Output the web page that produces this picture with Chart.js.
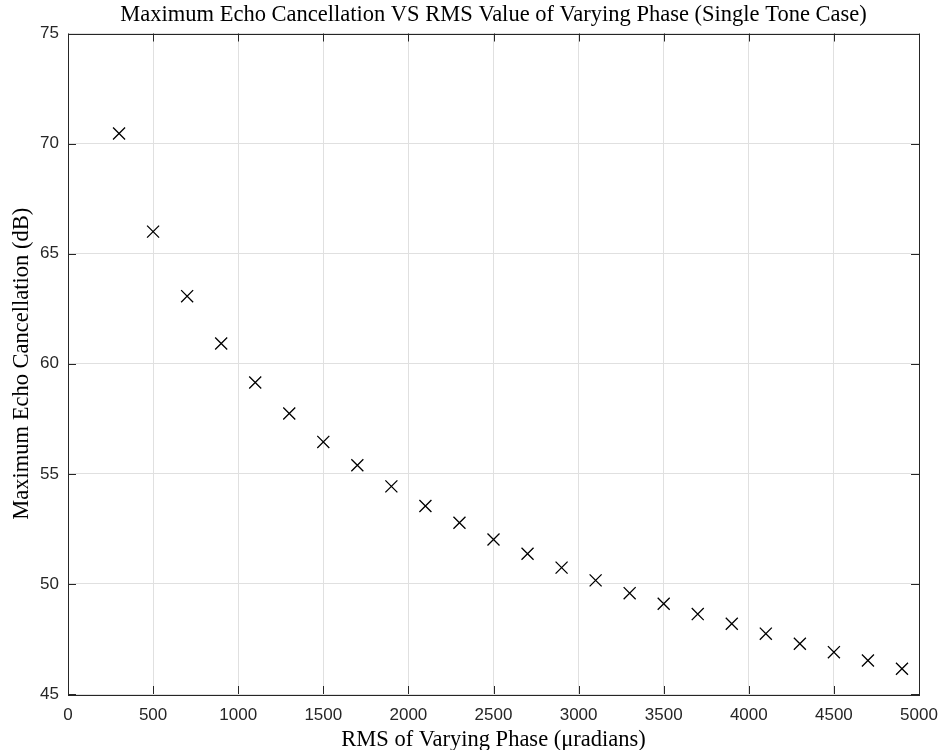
<!DOCTYPE html>
<html>
<head>
<meta charset="utf-8">
<script src="https://cdn.jsdelivr.net/npm/chart.js@4.4.1/dist/chart.umd.min.js"></script>
<style>
  html, body { margin: 0; padding: 0; background: #fff; }
  #wrap { width: 943px; height: 750px; }
</style>
</head>
<body>
<div id="wrap"><canvas id="chart"></canvas></div>
<script>
const phaseRms = [300, 500, 700, 900, 1100, 1300, 1500, 1700, 1900, 2100, 2300, 2500,
  2700, 2900, 3100, 3300, 3500, 3700, 3900, 4100, 4300, 4500, 4700, 4900];
const cancellation = [70.46, 66.0, 63.07, 60.92, 59.15, 57.74, 56.45, 55.39, 54.43, 53.54, 52.78, 52.02,
  51.37, 50.74, 50.16, 49.58, 49.1, 48.63, 48.19, 47.74, 47.28, 46.9, 46.52, 46.15];
const xTicks = [0, 500, 1000, 1500, 2000, 2500, 3000, 3500, 4000, 4500, 5000];
const yTicks = [45, 50, 55, 60, 65, 70, 75];

const serif = "'Liberation Serif', 'DejaVu Serif', serif";
const sans = "'Liberation Sans', Arial, sans-serif";

// frame + inward tick marks, MATLAB style
const boxTicks = {
  id: "boxTicks",
  afterDraw(chart) {
    const ctx = chart.ctx;
    const { left, right, top, bottom } = chart.chartArea;
    const xs = chart.scales.x, ys = chart.scales.y;
    const len = 8;
    ctx.save();
    ctx.strokeStyle = "#262626";
    ctx.lineWidth = 1;
    ctx.beginPath();
    xTicks.forEach((v) => {
      const px = Math.round(xs.getPixelForValue(v)) + 0.5;
      ctx.moveTo(px, bottom); ctx.lineTo(px, bottom - len);
      ctx.moveTo(px, top); ctx.lineTo(px, top + len);
    });
    yTicks.forEach((v) => {
      const py = Math.round(ys.getPixelForValue(v)) + 0.5;
      ctx.moveTo(left, py); ctx.lineTo(left + len, py);
      ctx.moveTo(right, py); ctx.lineTo(right - len, py);
    });
    ctx.stroke();
    ctx.strokeRect(Math.round(left) + 0.5, Math.round(top) + 0.5,
      Math.round(right - left), Math.round(bottom - top));
    ctx.restore();
  },
};

new Chart(document.getElementById("chart"), {
  type: "scatter",
  data: {
    datasets: [{
      data: phaseRms.map((x, i) => ({ x: x, y: cancellation[i] })),
      pointStyle: "crossRot",
      radius: 8.5,
      hoverRadius: 8.5,
      borderWidth: 1.3,
      borderColor: "#000",
      backgroundColor: "#000",
    }],
  },
  options: {
    responsive: true,
    maintainAspectRatio: false,
    animation: false,
    layout: { padding: { left: 0, right: 24, top: 0, bottom: 0 } },
    plugins: {
      legend: { display: false },
      tooltip: { enabled: false },
      title: {
        display: true,
        fullSize: false,
        text: "Maximum Echo Cancellation VS RMS Value of Varying Phase (Single Tone Case)",
        color: "#000",
        font: { family: serif, size: 22.5, weight: "normal", lineHeight: 1.2 },
        padding: { top: 1.5, bottom: 5 },
      },
    },
    scales: {
      x: {
        type: "linear",
        min: 0,
        max: 5000,
        afterBuildTicks: (s) => { s.ticks = xTicks.map((v) => ({ value: v })); },
        afterFit: (s) => {
          s.height = 56;
          s.paddingLeft = 0;
          s.paddingRight = 0;
        },
        grid: { color: "#e0e0e0", lineWidth: 1, drawTicks: false },
        border: { display: false },
        ticks: {
          color: "#262626",
          font: { family: sans, size: 17 },
          padding: 11.5,
          maxRotation: 0,
          callback: (v) => String(v),
        },
        title: {
          display: true,
          text: "RMS of Varying Phase (μradians)",
          color: "#000",
          font: { family: serif, size: 22.5, lineHeight: 0.9 },
          padding: { top: 0, bottom: 0 },
        },
      },
      y: {
        min: 45,
        max: 75,
        afterBuildTicks: (s) => { s.ticks = yTicks.map((v) => ({ value: v })); },
        afterFit: (s) => { s.width = 68; },
        grid: { color: "#e0e0e0", lineWidth: 1, drawTicks: false },
        border: { display: false },
        ticks: {
          color: "#262626",
          font: { family: sans, size: 17 },
          padding: 9,
          callback: (v) => String(v),
        },
        title: {
          display: true,
          text: "Maximum Echo Cancellation (dB)",
          color: "#000",
          font: { family: serif, size: 22.5, lineHeight: 1.2 },
          padding: { top: 8.5, bottom: 0 },
        },
      },
    },
  },
  plugins: [boxTicks],
});
</script>
</body>
</html>
